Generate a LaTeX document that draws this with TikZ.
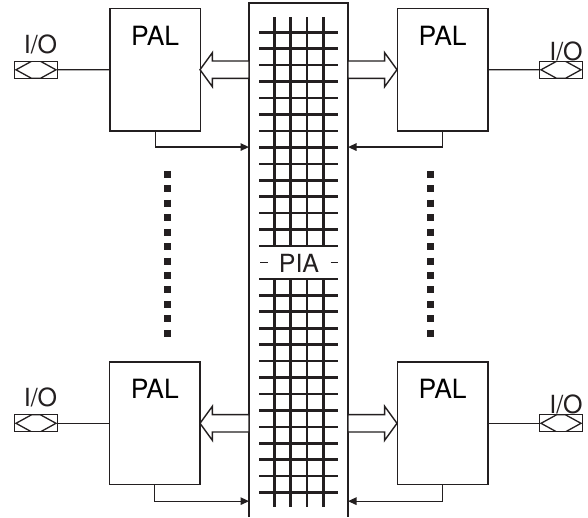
\documentclass[tikz,border=0pt]{standalone}
\usepackage{fontspec}
\setmainfont{TeX Gyre Heros}
\usetikzlibrary{arrows.meta,shapes.arrows}
\definecolor{ink}{RGB}{35,31,32}
\begin{document}
\begin{tikzpicture}[x=1pt,y=-1pt,
  pal/.style={draw=ink,line width=1.6pt,minimum width=90.5pt,inner sep=0pt,outer sep=0pt,
    text height=36.7pt,text depth=86pt,font=\fontsize{26.5}{30}\selectfont},
  port/.style={draw=ink,line width=1.3pt,minimum width=43pt,minimum height=17pt,inner sep=0pt,outer sep=0pt,
    path picture={\draw[ink,line width=1.3pt] ([xshift=1.5pt]path picture bounding box.west)
      -- ([xshift=-4.5pt]path picture bounding box.north) -- ([xshift=4.5pt]path picture bounding box.north)
      -- ([xshift=-1.5pt]path picture bounding box.east) -- ([xshift=4.5pt]path picture bounding box.south)
      -- ([xshift=-4.5pt]path picture bounding box.south) -- cycle;}},
  iotxt/.style={anchor=base,inner sep=0pt,text=ink,font=\fontsize{25}{30}\selectfont},
  fat/.style={single arrow,draw=ink,fill=white,line width=1.4pt,minimum height=49pt,
    single arrow head extend=8.4pt,single arrow tip angle=108,inner xsep=0pt,inner ysep=8pt,outer sep=0pt},
  grid/.style={ink,line width=2.6pt},
  wire/.style={ink,line width=1.3pt},
  fb/.style={ink,line width=1.3pt,-{Triangle[length=8.5pt,width=7.5pt]}},
  dots/.style={ink,line width=7pt,dash pattern=on 7pt off 7.45pt}]
\useasboundingbox (0,0) rectangle (588,517);
% programmable interconnect array
\node[minimum width=99pt,minimum height=514pt,inner sep=0pt,outer sep=0pt] (pia) at (298.5,260) {};
\draw[ink,line width=1.6pt] (pia.south west) |- (pia.north east) -- (pia.south east);
\foreach \i in {0,...,28}{
  \ifnum\i=14\else
    \draw[grid] (259.3,{32.3+16.44*\i}) -- (338.3,{32.3+16.44*\i});
  \fi
}
\foreach \x in {274.3,290.6,306.9,323.2}{
  \draw[grid] (\x,17.3) -- (\x,246);
  \draw[grid] (\x,278.9) -- (\x,507.3);
}
\draw[ink,line width=1.4pt] (260,262.5) -- (268,262.5) (330.5,262.5) -- (338.3,262.5);
\node[anchor=base,inner sep=0pt,text=ink,font=\fontsize{25}{30}\selectfont] (piatxt) at (299,272.5) {PIA};
% PAL blocks
\node[pal] (palTL) at (155.2,69.7) {PAL};
\node[pal] (palTR) at (442.7,69.7) {PAL};
\node[pal] (palBL) at (154.8,423.3) {PAL};
\node[pal] (palBR) at (442.7,423.3) {PAL};
% I/O pins
\node[port] (ioTL) at (36,69.8) {};
\node[port] (ioTR) at (561,69.8) {};
\node[port] (ioBL) at (36,423.3) {};
\node[port] (ioBR) at (561,423.3) {};
\node[iotxt] (ioTLt) at (40.5,53.3) {I/O};
\node[iotxt] (ioTRt) at (566,60) {I/O};
\node[iotxt] (ioBLt) at (40.5,406.7) {I/O};
\node[iotxt] (ioBRt) at (566,413) {I/O};
\draw[wire] (ioTL.east) -- (palTL.west);
\draw[wire] (ioBL.east) -- (palBL.west);
\draw[wire] (palTR.east) -- (ioTR.west);
\draw[wire] (palBR.east) -- (ioBR.west);
% buses from the PIA
\node[fat,shape border rotate=180,anchor=tail] (arTL) at (pia.west |- palTL.east) {};
\node[fat,shape border rotate=180,anchor=tail] (arBL) at (pia.west |- palBL.east) {};
\node[fat,anchor=tail] (arTR) at (pia.east |- palTR.west) {};
\node[fat,anchor=tail] (arBR) at (pia.east |- palBR.west) {};
% feedback into the PIA
\coordinate (fbTL) at ([yshift=-16pt]palTL.south);
\coordinate (fbBL) at ([yshift=-16.5pt]palBL.south);
\coordinate (fbTR) at ([yshift=-16pt]palTR.south);
\coordinate (fbBR) at ([yshift=-16.5pt]palBR.south);
\draw[fb] (palTL.south) -- (fbTL) -- (fbTL -| pia.west);
\draw[fb] (palBL.south) -- (fbBL) -- (fbBL -| pia.west);
\draw[fb] (palTR.south) -- (fbTR) -- (fbTR -| pia.east);
\draw[fb] (palBR.south) -- (fbBR) -- (fbBR -| pia.east);
% more PALs in between
\draw[dots] (167.3,170.8) -- (167.3,337);
\draw[dots] (430,170.8) -- (430,337);
\end{tikzpicture}
\end{document}
